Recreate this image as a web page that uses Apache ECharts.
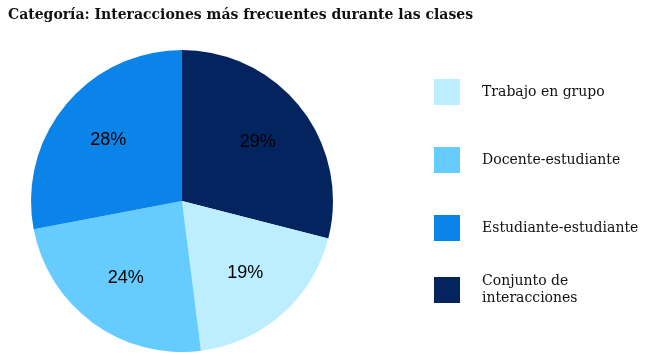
<!DOCTYPE html>
<html>
<head>
<meta charset="utf-8">
<script src="https://cdn.jsdelivr.net/npm/echarts@6/dist/echarts.min.js"></script>
<style>
  html, body { margin: 0; padding: 0; background: #fff; }
  #chart { width: 647px; height: 356px; }
</style>
</head>
<body>
<div id="chart"></div>
<script>
// slices in clockwise order from 12 o'clock
const categories = ['Conjunto de\ninteracciones', 'Trabajo en grupo', 'Docente-estudiante', 'Estudiante-estudiante']
const values = [29, 19, 24, 28]
const colors = ['#03245e', '#bdeeff', '#66ccff', '#0a84e8']
const legendOrder = ['Trabajo en grupo', 'Docente-estudiante', 'Estudiante-estudiante']
const legendLast = ['Conjunto de\ninteracciones']

const cx = 182
const cy = 201
const chart = echarts.init(document.getElementById('chart'))

const legendText = {
  fontFamily: 'DejaVu Serif',
  fontSize: 14,
  color: '#111',
  lineHeight: 17,
  padding: [0, 0, 0, 17],
}

chart.setOption({
  animation: false,
  title: {
    text: 'Categoría: Interacciones más frecuentes durante las clases',
    left: 3,
    top: 3,
    textStyle: {
      fontFamily: 'DejaVu Serif',
      fontWeight: 'bold',
      fontSize: 14,
      color: '#111',
    },
  },
  legend: [
    {
      orient: 'vertical',
      left: 429,
      top: 74,
      itemWidth: 26,
      itemHeight: 26,
      itemGap: 42,
      icon: 'rect',
      data: legendOrder,
      textStyle: legendText,
    },
    {
      orient: 'vertical',
      left: 429,
      top: 268,
      itemWidth: 26,
      itemHeight: 26,
      icon: 'rect',
      data: legendLast,
      textStyle: legendText,
    },
  ],
  series: [
    {
      type: 'pie',
      center: [cx, cy],
      radius: 151,
      startAngle: 90,
      clockwise: true,
      color: colors,
      data: categories.map((name, i) => ({ name: name, value: values[i] })),
      label: {
        show: true,
        position: 'inside',
        formatter: '{c}%',
        fontFamily: 'Liberation Sans',
        fontSize: 18,
        color: '#000',
      },
      labelLine: { show: false },
      labelLayout: (params) => {
        const r = params.labelRect
        const lx = r.x + r.width / 2
        const ly = r.y + r.height / 2
        return {
          x: cx + (lx - cx) * 1.22,
          y: cy + (ly - cy) * 1.22,
        }
      },
      emphasis: { disabled: true },
    },
  ],
})
</script>
</body>
</html>
